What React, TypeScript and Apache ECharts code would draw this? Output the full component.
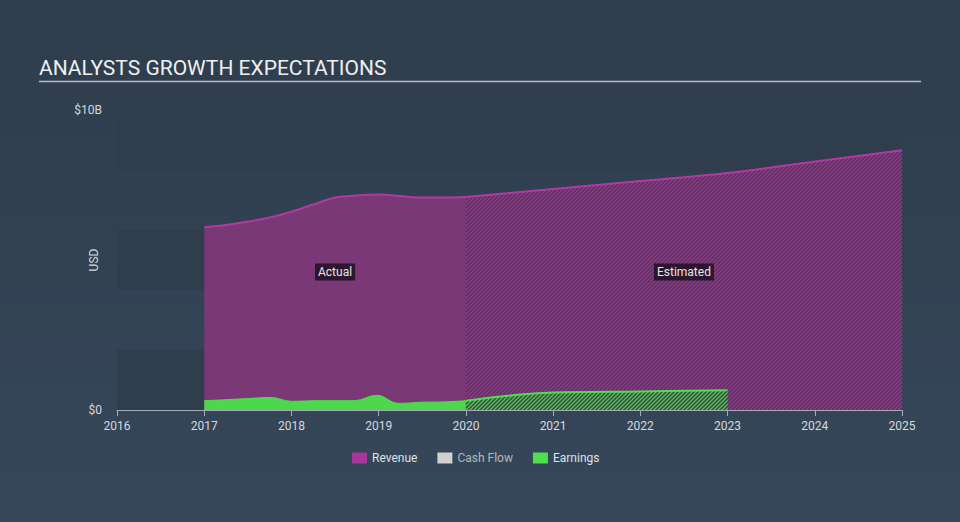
import React, { useEffect, useRef } from "react";
import * as echarts from "echarts";

// ---- data (USD billions, decimal years) ----
const xTicksMin = 2016;
const xTicksMax = 2025;
const yMax = 10;

const revenueActualYears = [2017.0, 2017.25, 2017.5, 2017.75, 2018.0, 2018.25, 2018.5, 2018.75, 2019.0, 2019.25, 2019.5, 2019.75, 2020.0];
const revenueActualValues = [6.1, 6.17, 6.28, 6.42, 6.61, 6.85, 7.08, 7.15, 7.18, 7.13, 7.08, 7.08, 7.1];

const revenueEstYears = [2020.0, 2021.0, 2022.0, 2023.0, 2024.0, 2025.0];
const revenueEstValues = [7.1, 7.37, 7.63, 7.9, 8.28, 8.66];

const earningsActualYears = [2017.0, 2017.3, 2017.55, 2017.76, 2018.0, 2018.3, 2018.72, 2018.98, 2019.23, 2019.5, 2019.75, 2020.0];
const earningsActualValues = [0.31, 0.35, 0.39, 0.42, 0.29, 0.31, 0.31, 0.49, 0.22, 0.26, 0.27, 0.31];

const earningsEstYears = [2020.0, 2020.4, 2020.7, 2021.0, 2022.0, 2023.0];
const earningsEstValues = [0.31, 0.45, 0.53, 0.58, 0.62, 0.66];

const legendNames = ["Revenue", "Cash Flow", "Earnings"];
const regionLabels = ["Actual", "Estimated"];

const zip = (xs: number[], ys: number[]) => xs.map((x, i) => [x, ys[i]]);

const makeHatch = (bg: string, fg: string, s: number, w: number) => {
  const svg =
    `<svg xmlns='http://www.w3.org/2000/svg' width='${s}' height='${s}'>` +
    `<rect width='${s}' height='${s}' fill='${bg}'/>` +
    `<path d='M0,${s} L${s},0 M${-s / 2},${s / 2} L${s / 2},${-s / 2} M${s / 2},${s * 1.5} L${s * 1.5},${s / 2}' stroke='${fg}' stroke-width='${w}'/>` +
    `</svg>`;
  return {
    image: "data:image/svg+xml;charset=utf-8," + encodeURIComponent(svg),
    repeat: "repeat",
    imageWidth: s,
    imageHeight: s,
  } as any;
};

const FONT = "Roboto, 'Noto Sans', sans-serif";

export default function App() {
  const ref = useRef<HTMLDivElement>(null);

  useEffect(() => {
    if (!ref.current) return;
    const chart = echarts.init(ref.current, undefined, { renderer: "svg" });

    const revColor = "#b03aa2";
    const earnColor = "#4fde4f";

    const option: any = {
      animation: false,
      backgroundColor: new echarts.graphic.LinearGradient(0, 0, 0, 1, [
        { offset: 0, color: "#2f3d4c" },
        { offset: 1, color: "#35475a" },
      ]),
      textStyle: { fontFamily: FONT },
      grid: { left: 117, right: 58, top: 110, bottom: 112, containLabel: false },
      xAxis: {
        type: "value",
        min: xTicksMin,
        max: xTicksMax,
        interval: 1,
        axisLine: { show: true, lineStyle: { color: "#a3acb6", width: 1 } },
        axisTick: { show: true, length: 6, lineStyle: { color: "#a3acb6" } },
        axisLabel: { color: "#d6d9dc", fontSize: 12, margin: 10, fontFamily: FONT, formatter: (v: number) => String(v) },
        splitLine: { show: false },
      },
      yAxis: {
        type: "value",
        min: 0,
        max: yMax,
        interval: 2,
        name: "USD",
        nameLocation: "middle",
        nameGap: 17,
        nameRotate: 90,
        nameMoveOverlap: false,
        nameTextStyle: { color: "#d6d9dc", fontSize: 12, fontFamily: FONT },
        axisLine: { show: false },
        axisTick: { show: false },
        axisLabel: {
          color: "#d6d9dc",
          fontSize: 12,
          margin: 15,
          fontFamily: FONT,
          formatter: (v: number) => (v === 0 ? "$0" : v === yMax ? "$10B" : ""),
        },
        splitLine: { show: false },
        splitArea: { show: true, areaStyle: { color: ["#2f3d4c", "rgba(0,0,0,0)"] } },
      },
      legend: {
        left: 347,
        top: 447,
        icon: "rect",
        itemWidth: 15,
        itemHeight: 11,
        itemGap: 20,
        textStyle: { color: "#dfe2e5", fontSize: 12, fontFamily: FONT },
        data: [
          { name: legendNames[0], itemStyle: { color: "#a8379b" } },
          { name: legendNames[1], itemStyle: { color: "#d0d0d0" }, textStyle: { color: "#b4b8bc" } },
          { name: legendNames[2], itemStyle: { color: "#4fe04f" } },
        ],
      },
      series: [
        {
          name: legendNames[0],
          type: "line",
          data: zip(revenueActualYears, revenueActualValues),
          smooth: 0.3,
          symbol: "none",
          itemStyle: { color: "#a8379b" },
          lineStyle: { color: revColor, width: 2 },
          areaStyle: { color: "#7a3876", opacity: 1 },
          z: 2,
        },
        {
          name: legendNames[0],
          type: "line",
          data: zip(revenueEstYears, revenueEstValues),
          smooth: 0.3,
          symbol: "none",
          itemStyle: { color: "#a8379b" },
          lineStyle: { color: revColor, width: 2 },
          areaStyle: { color: makeHatch("#56305c", "#8e3c88", 4, 1.5), opacity: 1 },
          z: 2,
        },
        {
          name: legendNames[1],
          type: "line",
          data: [],
          symbol: "none",
          itemStyle: { color: "#d0d0d0" },
        },
        {
          name: legendNames[2],
          type: "line",
          data: zip(earningsActualYears, earningsActualValues),
          smooth: 0.4,
          symbol: "none",
          itemStyle: { color: "#4fe04f" },
          lineStyle: { color: earnColor, width: 1 },
          areaStyle: { color: "#4dd74d", opacity: 1 },
          z: 3,
        },
        {
          name: legendNames[2],
          type: "line",
          data: zip(earningsEstYears, earningsEstValues),
          smooth: 0.4,
          symbol: "none",
          itemStyle: { color: "#4fe04f" },
          lineStyle: { color: earnColor, width: 2 },
          areaStyle: { color: makeHatch("#3a4944", "#4fc94f", 4, 1.3), opacity: 1 },
          z: 3,
        },
      ],
    };

    chart.setOption(option);

    const pActual = chart.convertToPixel({ gridIndex: 0 }, [
      (revenueActualYears[0] + revenueActualYears[revenueActualYears.length - 1]) / 2,
      4.6,
    ]) as number[];
    const pEst = chart.convertToPixel({ gridIndex: 0 }, [
      (revenueEstYears[0] + revenueEstYears[revenueEstYears.length - 1]) / 2,
      4.6,
    ]) as number[];
    const gridRight = chart.convertToPixel({ gridIndex: 0 }, [xTicksMax, 0]) as number[];

    const labelStyle = (text: string) => ({
      text,
      fill: "#e6e6e6",
      font: `12px ${FONT}`,
      align: "center",
      verticalAlign: "middle",
      backgroundColor: "rgba(38,20,40,0.92)",
      padding: [3, 3, 2, 3],
    });

    chart.setOption({
      graphic: [
        {
          type: "text",
          left: 39,
          top: 57,
          style: { text: "ANALYSTS GROWTH EXPECTATIONS", fill: "#eef0f2", font: `21px ${FONT}` },
        },
        {
          type: "line",
          shape: { x1: 39, y1: 81.5, x2: gridRight[0] + 19, y2: 81.5 },
          style: { stroke: "#b7bcc2", lineWidth: 1.5 },
        },
        { type: "text", x: pActual[0], y: pActual[1], z: 10, style: labelStyle(regionLabels[0]) },
        { type: "text", x: pEst[0], y: pEst[1], z: 10, style: labelStyle(regionLabels[1]) },
      ],
    });

    return () => chart.dispose();
  }, []);

  return (
    <div
      ref={ref}
      style={{ position: "fixed", left: 0, top: 0, width: 960, height: 522 }}
    />
  );
}
